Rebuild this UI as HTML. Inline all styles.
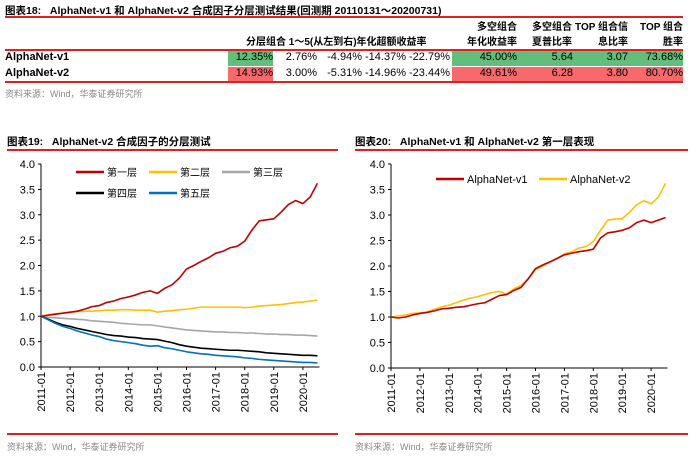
<!DOCTYPE html>
<html><head><meta charset="utf-8"><style>
body{margin:0;width:700px;height:461px;background:#fff;font-family:"Liberation Sans","Noto Sans CJK SC",sans-serif;overflow:hidden;position:relative}
.a{position:absolute;white-space:nowrap}
.t{font-weight:bold;font-size:10.5px;color:#000}
.rl{position:absolute;height:1.5px;background:#e02020}
.src{font-size:9px;color:#888}
.c{position:absolute;font-size:11px;text-align:right;white-space:nowrap}
.h{position:absolute;font-size:10px;font-weight:bold;text-align:right;white-space:nowrap;line-height:15px}
</style></head><body>
<div class="a t" style="left:5px;top:3px">图表18:&nbsp;&nbsp; AlphaNet-v1 和 AlphaNet-v2 合成因子分层测试结果(回测期 20110131～20200731)</div>
<div class="rl" style="left:5px;top:16px;width:678px"></div>
<div>
<div class="a" style="left:228px;top:50px;width:45px;height:16px;background:#63be7b"></div>
<div class="a" style="left:452px;top:50px;width:231px;height:16px;background:#63be7b"></div>
<div class="a" style="left:228px;top:67px;width:45px;height:14px;background:#f8696b"></div>
<div class="a" style="left:452px;top:67px;width:231px;height:14px;background:#f8696b"></div>
<div class="a" style="left:5px;top:49px;width:678px;height:1.5px;background:#e02020"></div>
<div class="a" style="left:5px;top:81px;width:678px;height:1.5px;background:#e02020"></div>
<div class="h" style="left:246px;top:35px;text-align:left">分层组合 1～5(从左到右)年化超额收益率</div>
<div class="h" style="left:437px;top:20px;width:80px">多空组合<br>年化收益率</div>
<div class="h" style="left:532px;top:20px;width:80px;text-align:left">多空组合<br>夏普比率</div>
<div class="h" style="left:568px;top:20px;width:60px">TOP 组合信<br>息比率</div>
<div class="h" style="left:623px;top:20px;width:60px">TOP 组合<br>胜率</div>
<div class="a t" style="left:5px;top:51px;font-size:11px">AlphaNet-v1</div>
<div class="a t" style="left:5px;top:67px;font-size:11px">AlphaNet-v2</div>
<div>
<div class="c" style="left:213px;top:51px;width:60px">12.35%</div><div class="c" style="left:257px;top:51px;width:60px">2.76%</div><div class="c" style="left:302px;top:51px;width:60px">-4.94%</div><div class="c" style="left:346px;top:51px;width:60px">-14.37%</div><div class="c" style="left:390px;top:51px;width:60px">-22.79%</div><div class="c" style="left:457px;top:51px;width:60px">45.00%</div><div class="c" style="left:513px;top:51px;width:60px">5.64</div><div class="c" style="left:568px;top:51px;width:60px">3.07</div><div class="c" style="left:623px;top:51px;width:60px">73.68%</div></div>
<div>
<div class="c" style="left:213px;top:67px;width:60px">14.93%</div><div class="c" style="left:257px;top:67px;width:60px">3.00%</div><div class="c" style="left:302px;top:67px;width:60px">-5.31%</div><div class="c" style="left:346px;top:67px;width:60px">-14.96%</div><div class="c" style="left:390px;top:67px;width:60px">-23.44%</div><div class="c" style="left:457px;top:67px;width:60px">49.61%</div><div class="c" style="left:513px;top:67px;width:60px">6.28</div><div class="c" style="left:568px;top:67px;width:60px">3.80</div><div class="c" style="left:623px;top:67px;width:60px">80.70%</div></div>
</div>
<div class="a src" style="left:5px;top:87px">资料来源：Wind，华泰证券研究所</div>

<div class="a t" style="left:7px;top:134px">图表19:&nbsp;&nbsp; AlphaNet-v2 合成因子的分层测试</div>
<div class="rl" style="left:7px;top:149px;width:331px"></div>
<div class="rl" style="left:7px;top:433px;width:331px"></div>
<div class="a src" style="left:7px;top:440px">资料来源：Wind，华泰证券研究所</div>
<div class="a t" style="left:355px;top:134px">图表20:&nbsp;&nbsp; AlphaNet-v1 和 AlphaNet-v2 第一层表现</div>
<div class="rl" style="left:355px;top:149px;width:333px"></div>
<div class="rl" style="left:355px;top:433px;width:333px"></div>
<div class="a src" style="left:355px;top:440px">资料来源：Wind，华泰证券研究所</div>

<svg id="s" width="700" height="461" style="position:absolute;left:0;top:0"></svg>
<script>
const yearLabels=["2011-01","2012-01","2013-01","2014-01","2015-01","2016-01","2017-01","2018-01","2019-01","2020-01"];
const yTicks=[0,0.5,1,1.5,2,2.5,3,3.5,4];
const layer1=[1.0,1.02,1.04,1.06,1.08,1.10,1.14,1.19,1.21,1.27,1.30,1.35,1.38,1.42,1.47,1.50,1.45,1.55,1.62,1.75,1.93,2.00,2.08,2.15,2.24,2.28,2.35,2.38,2.48,2.70,2.88,2.90,2.92,3.05,3.20,3.28,3.22,3.35,3.62];
const layer2=[1.0,1.03,1.05,1.06,1.08,1.09,1.10,1.10,1.11,1.12,1.12,1.13,1.13,1.12,1.12,1.12,1.08,1.10,1.11,1.13,1.14,1.16,1.18,1.18,1.18,1.18,1.18,1.18,1.17,1.18,1.20,1.21,1.22,1.23,1.25,1.27,1.28,1.30,1.32];
const layer3=[1.0,0.98,0.97,0.96,0.95,0.94,0.93,0.91,0.90,0.89,0.88,0.86,0.85,0.84,0.83,0.83,0.81,0.79,0.77,0.75,0.73,0.72,0.71,0.70,0.69,0.69,0.68,0.68,0.67,0.67,0.66,0.65,0.65,0.64,0.64,0.63,0.63,0.62,0.61];
const layer4=[1.0,0.94,0.88,0.83,0.80,0.76,0.73,0.70,0.67,0.64,0.62,0.61,0.59,0.58,0.56,0.55,0.54,0.51,0.48,0.44,0.41,0.39,0.37,0.36,0.35,0.34,0.33,0.33,0.32,0.31,0.30,0.28,0.27,0.26,0.25,0.24,0.23,0.23,0.22];
const layer5=[1.0,0.93,0.86,0.80,0.76,0.71,0.67,0.63,0.60,0.55,0.52,0.50,0.48,0.46,0.43,0.41,0.42,0.38,0.36,0.33,0.30,0.28,0.26,0.25,0.23,0.22,0.21,0.20,0.18,0.17,0.15,0.14,0.13,0.12,0.11,0.10,0.09,0.09,0.08];
const v1Top=[1.0,0.98,1.00,1.04,1.07,1.09,1.12,1.16,1.17,1.19,1.20,1.23,1.26,1.28,1.35,1.42,1.44,1.52,1.58,1.75,1.95,2.02,2.08,2.15,2.22,2.25,2.28,2.30,2.33,2.55,2.65,2.67,2.70,2.75,2.85,2.90,2.85,2.90,2.95];
const v2Top=[1.0,1.02,1.04,1.07,1.08,1.10,1.15,1.20,1.23,1.28,1.33,1.37,1.40,1.44,1.48,1.50,1.45,1.55,1.62,1.75,1.93,2.00,2.08,2.15,2.24,2.28,2.35,2.38,2.48,2.70,2.90,2.92,2.93,3.05,3.20,3.28,3.22,3.35,3.62];
const NS="http://www.w3.org/2000/svg",svg=document.getElementById('s');
function mk(t,a,p){const e=document.createElementNS(NS,t);for(const k in a)e.setAttribute(k,a[k]);(p||svg).appendChild(e);return e;}
function chart(x0,yTop,yBot,yearW,name,series,legend){
 const g=mk('g',{});
 
 
 const ys=v=>yBot-(v/4)*(yBot-yTop);
 const xs=i=>x0+i*3/12*yearW;
 const xEnd=xs(38);
 mk('line',{x1:x0,y1:yTop,x2:x0,y2:yBot,stroke:'#000','stroke-width':1},g);
 mk('line',{x1:x0,y1:yBot,x2:xEnd+2,y2:yBot,stroke:'#000','stroke-width':1},g);
 yTicks.forEach(v=>{mk('line',{x1:x0-3,y1:ys(v),x2:x0,y2:ys(v),stroke:'#000'},g);
  const t=mk('text',{x:x0-6,y:ys(v)+4,'text-anchor':'end','font-size':11,fill:'#000'},g);t.textContent=v.toFixed(1);
  
  });
 yearLabels.forEach((l,i)=>{const x=x0+i*yearW;mk('line',{x1:x,y1:yBot,x2:x,y2:yBot+3,stroke:'#000'},g);
  const t=mk('text',{x:0,y:0,'text-anchor':'end','font-size':11,fill:'#000',transform:`translate(${x+4},${yBot+5}) rotate(-90)`},g);t.textContent=l;
  
  });
 series.forEach(s=>{const p=mk('polyline',{points:s.d.map((v,i)=>xs(i)+','+ys(v)).join(' '),fill:'none',stroke:s.c,'stroke-width':1.6,'stroke-linejoin':'round'},g);
  
  });
 legend.forEach(l=>{mk('line',{x1:l.x,y1:l.y,x2:l.x+28,y2:l.y,stroke:l.c,'stroke-width':2.5},g);
  const t=mk('text',{x:l.x+31,y:l.y+4,'font-size':l.fs,fill:'#000'},g);t.textContent=l.t;
  
  });
}
chart(41,164,367,29.1,'layers-chart',[
 {d:layer3,c:'#a6a6a6',n:'line-layer3'},{d:layer2,c:'#ffc000',n:'line-layer2'},{d:layer4,c:'#000',n:'line-layer4'},{d:layer5,c:'#0070c0',n:'line-layer5'},{d:layer1,c:'#c00000',n:'line-layer1'}],
 [{x:76,y:172,c:'#c00000',t:'第一层',fs:10},{x:149,y:172,c:'#ffc000',t:'第二层',fs:10},{x:222,y:172,c:'#a6a6a6',t:'第三层',fs:10},{x:76,y:193,c:'#000',t:'第四层',fs:10},{x:149,y:193,c:'#0070c0',t:'第五层',fs:10}]);
chart(391,164,368,28.9,'top-layer-chart',[
 {d:v2Top,c:'#ffc000',n:'line-alphanet-v2'},{d:v1Top,c:'#c00000',n:'line-alphanet-v1'}],
 [{x:436,y:179,c:'#c00000',t:'AlphaNet-v1',fs:11},{x:539,y:179,c:'#ffc000',t:'AlphaNet-v2',fs:11}]);
</script>
</body></html>
